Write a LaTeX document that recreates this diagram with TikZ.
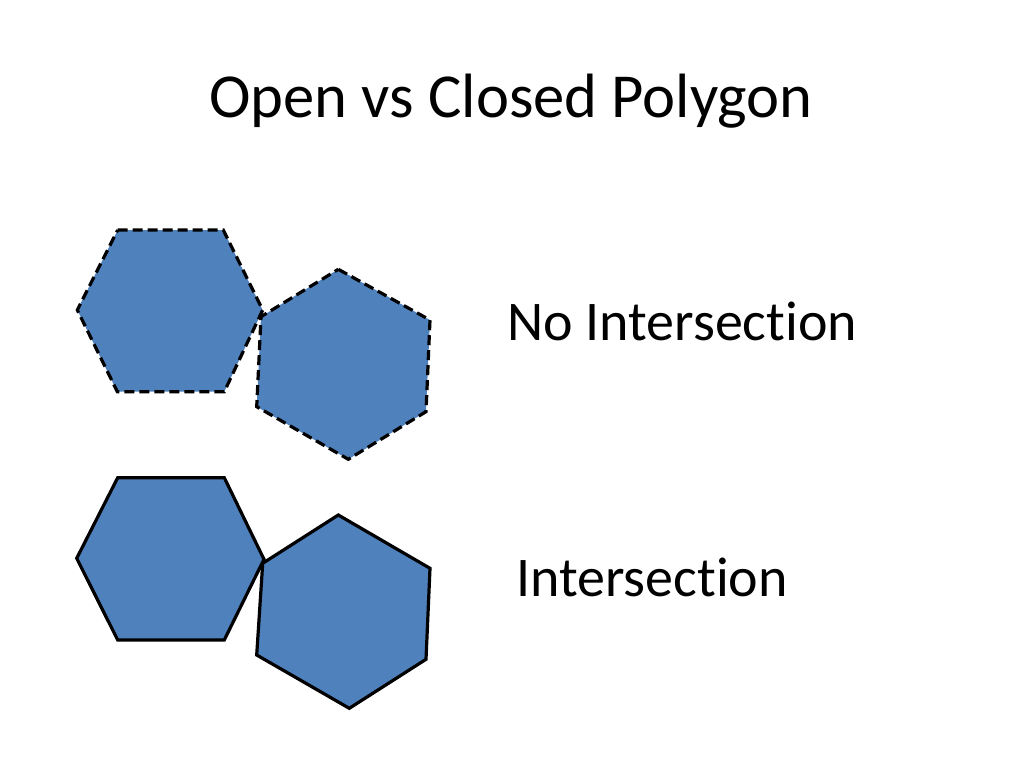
\documentclass[tikz,border=0pt]{standalone}
\usepackage{fontspec}
\setmainfont{Carlito}[Ligatures=NoCommon]
\definecolor{hexblue}{HTML}{4F81BD}
\tikzset{
  hexface/.style={fill=hexblue,draw=black,line width=3.2pt,line join=miter},
  openedge/.style={hexface,dash pattern=on 10pt off 5pt},
  slidetext/.style={inner sep=0pt,font=\fontsize{56}{60}\selectfont}
}
\begin{document}
\begin{tikzpicture}[x=1pt,y=-1pt]
  \useasboundingbox[fill=white] (0,0) rectangle (1024,768);

  % upper pair, dashed outline
  \coordinate (A1) at (117.7,230);   \coordinate (A2) at (223.3,230);
  \coordinate (A3) at (262.7,310);   \coordinate (A4) at (224.3,391.7);
  \coordinate (A5) at (117.3,391.7); \coordinate (A6) at (77.3,310);

  \coordinate (B1) at (338.3,269.3); \coordinate (B2) at (430,320);
  \coordinate (B3) at (426,411.7);   \coordinate (B4) at (348.3,459.3);
  \coordinate (B5) at (256.7,406.7); \coordinate (B6) at (261,316.7);

  % lower pair, solid outline
  \coordinate (C1) at (117.7,477.7); \coordinate (C2) at (224.3,477.7);
  \coordinate (C3) at (264,559.3);   \coordinate (C4) at (224.3,640);
  \coordinate (C5) at (117.7,640);   \coordinate (C6) at (76.7,558.3);

  \coordinate (D1) at (338.3,515);   \coordinate (D2) at (430,568.3);
  \coordinate (D3) at (426,659.3);   \coordinate (D4) at (349.3,708.3);
  \coordinate (D5) at (256.7,655);   \coordinate (D6) at (262.7,563.3);

  \draw[openedge] (A1) -- (A2) -- (A3) -- (A4) -- (A5) -- (A6) -- cycle;
  \draw[openedge] (B1) -- (B2) -- (B3) -- (B4) -- (B5) -- (B6) -- cycle;
  \draw[hexface] (C1) -- (C2) -- (C3) -- (C4) -- (C5) -- (C6) -- cycle;
  \draw[hexface] (D1) -- (D2) -- (D3) -- (D4) -- (D5) -- (D6) -- cycle;

  \node[slidetext,font=\fontsize{62.6}{68}\selectfont,anchor=base] (title) at (511,117) {Open vs Closed Polygon};
  \node[slidetext,anchor=base west] (noint) at (507,340) {No Intersection};
  \node[slidetext,anchor=base west] (inter) at (516,596) {Intersection};
\end{tikzpicture}
\end{document}
